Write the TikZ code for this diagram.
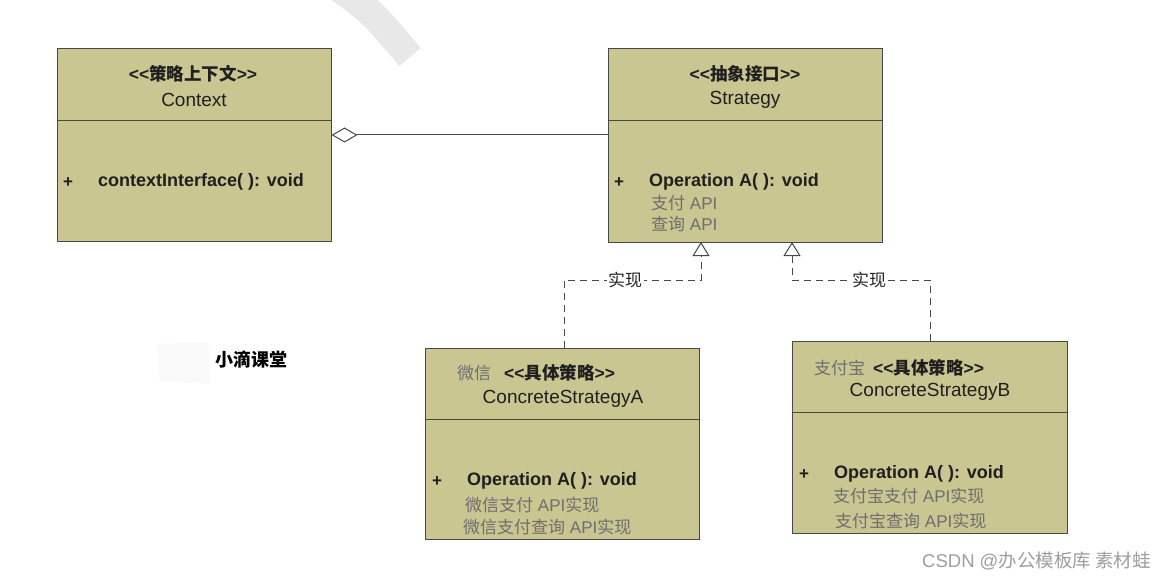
\documentclass[tikz,border=0pt]{standalone}
\usepackage{fontspec}
\setmainfont{Liberation Sans}
\newfontfamily\cjk{Noto Sans CJK SC}
\usetikzlibrary{arrows.meta}
\definecolor{boxfill}{RGB}{202,198,146}
\definecolor{edgec}{RGB}{72,72,72}
\definecolor{greytxt}{RGB}{110,110,110}
\definecolor{wm}{RGB}{232,232,232}
\newcommand\ltlt{<\kern0pt<}
\newcommand\gtgt{>\kern0pt>}
\begin{document}
\begin{tikzpicture}[x=1pt,y=-1pt,
  classbox/.style={draw=edgec,line width=1pt,fill=boxfill,inner sep=0pt,minimum width=274pt,minimum height=192pt},
  divider/.style={draw=edgec,line width=1pt},
  tt/.style={inner sep=0pt,text=black!88,font=\fontsize{19}{19}\selectfont},
  st/.style={inner sep=0pt,text=black!88,font=\fontsize{17.5}{18}\selectfont\bfseries},
  op/.style={inner sep=0pt,text=black!88,font=\fontsize{18}{18}\selectfont\bfseries},
  pl/.style={inner sep=0pt,text=black!88,font=\fontsize{17}{17}\selectfont\bfseries},
  gt/.style={inner sep=0pt,text=greytxt,font=\fontsize{17}{17}\selectfont},
  conn/.style={draw=edgec,line width=1pt},
  real/.style={conn,dash pattern=on 7pt off 5pt,-{Triangle[open,length=14pt,width=17pt]}},
  lbl/.style={fill=white,inner sep=1.5pt,text=black!85,font=\fontsize{17}{17}\selectfont\cjk}
]
\useasboundingbox (0,0) rectangle (1175,580);
\fill[white] (0,0) rectangle (1175,580);

% watermarks
\draw[wm,line width=28pt] (336,-14) .. controls (372,12) .. (410,57);
\fill[black!2.5] (157,344) -- (208,342) -- (210,384) -- (160,381) -- cycle;
\node[inner sep=0pt,font=\fontsize{18}{18}\selectfont\cjk\bfseries] (brand) at (251,360) {小滴课堂};
\node[inner sep=0pt,anchor=west,text=black!38,font=\fontsize{18.5}{18.5}\selectfont] (csdn) at (922,561) {CSDN @{\cjk 办公模板库 素材蛙}};

% Context
\node[classbox,minimum height=192pt] (ctx) at (194,145) {};
\draw[divider] (ctx.west |- 0,121) -- (ctx.east |- 0,121);
\node[st] (ctxs) at (193,74) {\ltlt{\cjk 策略上下文}\gtgt};
\node[tt] (ctxn) at (194,100) {Context};
\node[pl] (ctxp) at (68,183) {+};
\node[op,anchor=west] (ctxo) at (98,182) {contextInterface( ): void};

% Strategy
\node[classbox,minimum height=193pt] (str) at (745,145.5) {};
\draw[divider] (str.west |- 0,121) -- (str.east |- 0,121);
\node[st] (strs) at (745,74) {\ltlt{\cjk 抽象接口}\gtgt};
\node[tt] (strn) at (745,100) {Strategy};
\node[pl] (strp) at (619,183) {+};
\node[op,anchor=west] (stro) at (649,182) {Operation A( ): void};
\node[gt,anchor=west] (strg1) at (651,203) {{\cjk 支付} API};
\node[gt,anchor=west] (strg2) at (651,224) {{\cjk 查询} API};

% Concrete A
\node[classbox,minimum height=191pt] (ca) at (562,443.5) {};
\draw[divider] (ca.west |- 0,419) -- (ca.east |- 0,419);
\node[gt,anchor=west] (cag) at (457,373) {\cjk 微信};
\node[st,anchor=west] (cas) at (504,373) {\ltlt{\cjk 具体策略}\gtgt};
\node[tt] (can) at (563,399) {ConcreteStrategyA};
\node[pl] (cap) at (437,482) {+};
\node[op,anchor=west] (cao) at (467,481) {Operation A( ): void};
\node[gt,anchor=west] (cag1) at (465,505) {{\cjk 微信支付} API{\cjk 实现}};
\node[gt,anchor=west] (cag2) at (463,527) {{\cjk 微信支付查询} API{\cjk 实现}};

% Concrete B
\node[classbox,minimum width=275pt,minimum height=192pt] (cb) at (929.5,437) {};
\draw[divider] (cb.west |- 0,412) -- (cb.east |- 0,412);
\node[gt,anchor=west] (cbg) at (814,368) {\cjk 支付宝};
\node[st,anchor=west] (cbs) at (873,368) {\ltlt{\cjk 具体策略}\gtgt};
\node[tt] (cbn) at (930,392) {ConcreteStrategyB};
\node[pl] (cbp) at (804,475) {+};
\node[op,anchor=west] (cbo) at (834,474) {Operation A( ): void};
\node[gt,anchor=west] (cbg1) at (833,496) {{\cjk 支付宝支付} API{\cjk 实现}};
\node[gt,anchor=west] (cbg2) at (835,521) {{\cjk 支付宝查询} API{\cjk 实现}};

% connectors
\coordinate (aggS) at (ctx.east |- 0,135);
\coordinate (aggT) at (str.west |- 0,135);
\draw[conn,{Diamond[open,length=26pt,width=15pt]}-] (aggS) -- (aggT);

\coordinate (aTop) at (564,348);
\coordinate (aTip) at (701,242);
\coordinate (aBend) at (701,280);
\draw[real] (aTop) |- (aBend) -- (aTip);
\node[lbl] (la) at (625,280) {实现};

\coordinate (bTop) at (930,341);
\coordinate (bTip) at (792,242);
\coordinate (bBend) at (792,280);
\draw[real] (bTop) |- (bBend) -- (bTip);
\node[lbl] (lb) at (869,280) {实现};
\end{tikzpicture}
\end{document}
